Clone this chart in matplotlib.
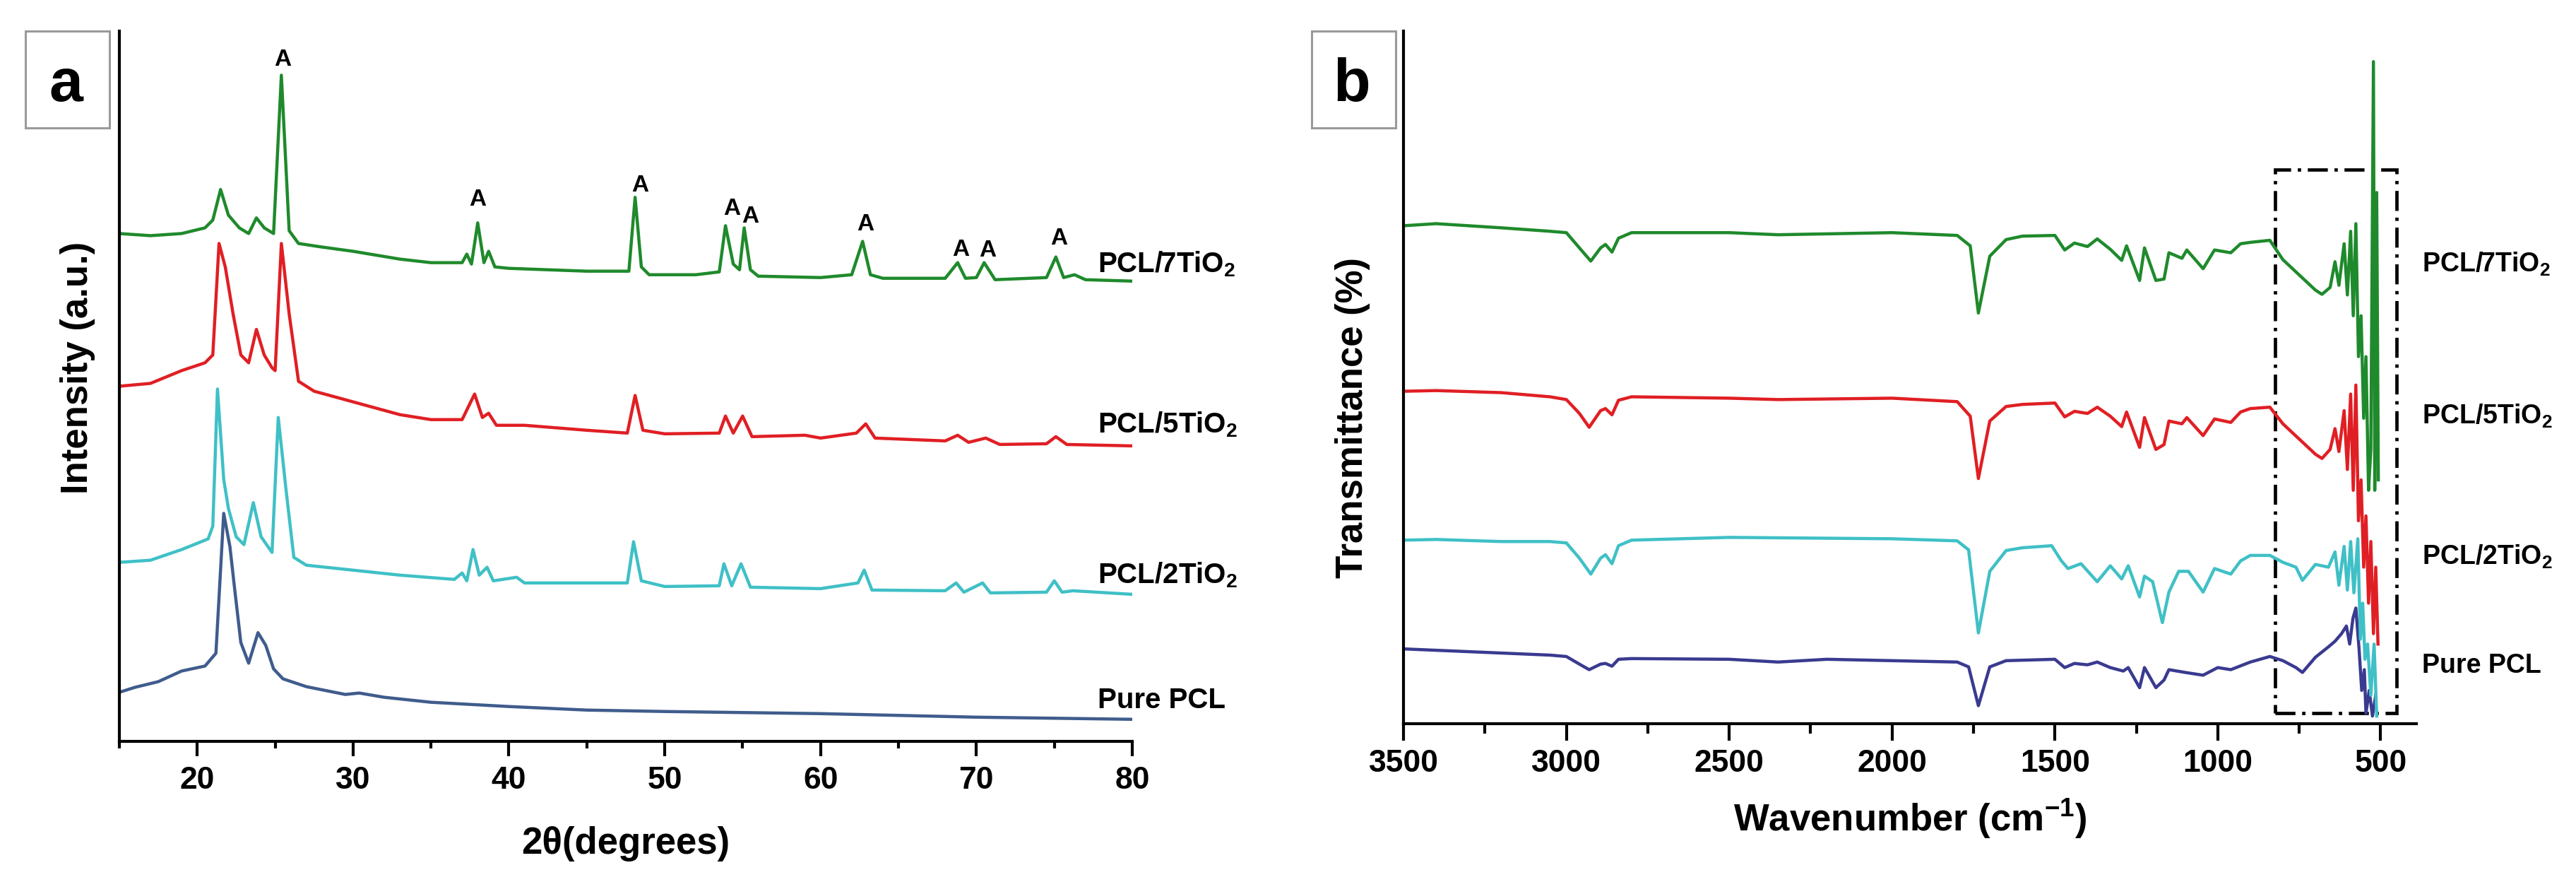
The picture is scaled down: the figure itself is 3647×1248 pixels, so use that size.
import matplotlib
matplotlib.use("Agg")
import matplotlib.pyplot as plt
from matplotlib.patches import Rectangle
from matplotlib.ticker import MultipleLocator

plt.rcParams['font.family'] = ['Liberation Sans', 'DejaVu Sans']
plt.rcParams['font.weight'] = 'bold'
plt.rcParams['mathtext.fontset'] = 'custom'
plt.rcParams['mathtext.bf'] = 'Liberation Sans:bold'
plt.rcParams['mathtext.rm'] = 'Liberation Sans:bold'
plt.rcParams['mathtext.default'] = 'bf'

# ---- (a) XRD patterns (stacked, arbitrary units) ----
xrd_7_x = [15, 17, 19, 20.5, 21.0, 21.5, 22.0, 22.7, 23.3, 23.8, 24.3, 24.9, 25.4, 25.9, 26.5, 28, 30, 33, 35, 37,
           37.3, 37.6, 38.0, 38.4, 38.7, 39.1, 40, 45, 47.7, 48.1, 48.5, 49, 52, 53.5, 53.9, 54.4, 54.8, 55.1, 55.5,
           56, 60, 62, 62.7, 63.2, 64, 68, 68.8, 69.3, 70, 70.5, 71.2, 74.5, 75.1, 75.6, 76.3, 77, 80]
xrd_7_y = [71.5, 71.2, 71.5, 72.3, 73.4, 77.7, 74.1, 72.3, 71.5, 73.7, 72.3, 71.5, 93.8, 71.9, 70.1, 69.6, 69.0, 67.9,
           67.4, 67.4, 68.6, 67.2, 73.0, 67.4, 69.0, 66.8, 66.6, 66.2, 66.2, 76.6, 66.8, 65.7, 65.7, 66.1, 72.6, 67.2,
           66.4, 72.3, 66.4, 65.5, 65.3, 65.7, 70.4, 65.7, 65.2, 65.2, 67.4, 65.2, 65.3, 67.4, 65.0, 65.3, 68.2, 65.3,
           65.7, 65.0, 64.8]

xrd_5_x = [15, 17, 19, 20.5, 21.0, 21.4, 21.8, 22.3, 22.8, 23.3, 23.8, 24.3, 24.8, 25.0, 25.4, 25.9, 26.5, 27.5, 30,
           33, 35, 37, 37.8, 38.3, 38.7, 39.2, 41, 45, 47.6, 48.1, 48.6, 50, 53.5, 53.9, 54.4, 55.0, 55.6, 59, 60,
           62.3, 62.9, 63.5, 68, 68.8, 69.5, 70.6, 71.5, 74.5, 75.1, 75.8, 80]
xrd_5_y = [50.0, 50.4, 52.2, 53.3, 54.4, 70.1, 66.8, 60.2, 54.4, 53.3, 58.0, 54.4, 52.6, 52.2, 70.1, 60.2, 50.7, 49.3,
           47.8, 46.0, 45.3, 45.3, 48.9, 45.6, 46.2, 44.5, 44.5, 43.8, 43.4, 48.7, 43.8, 43.3, 43.4, 45.8, 43.4, 45.8,
           42.9, 43.1, 42.7, 43.4, 44.7, 42.7, 42.3, 43.1, 42.1, 42.7, 41.8, 41.9, 42.9, 41.8, 41.6]

xrd_2_x = [15, 17, 19, 20.7, 21.0, 21.3, 21.7, 22.0, 22.5, 23.0, 23.6, 24.1, 24.8, 25.2, 25.7, 26.2, 27, 30, 33, 36.5,
           37.0, 37.3, 37.7, 38.1, 38.6, 39.0, 40.5, 41, 45, 47.6, 48.0, 48.5, 50, 53.5, 53.8, 54.3, 54.9, 55.5, 60,
           62.4, 62.8, 63.3, 68, 68.7, 69.2, 70.4, 70.9, 74.5, 75.0, 75.5, 76.2, 80]
xrd_2_y = [25.2, 25.5, 27.0, 28.5, 30.3, 49.6, 36.9, 32.8, 28.8, 27.7, 33.6, 28.8, 26.6, 45.6, 35.4, 25.9, 24.8, 24.1,
           23.4, 22.8, 23.7, 22.6, 27.0, 23.4, 24.5, 22.6, 23.1, 22.3, 22.3, 22.3, 28.1, 22.6, 21.8, 21.9, 25.0, 21.9,
           25.0, 21.7, 21.5, 22.3, 24.1, 21.3, 21.2, 22.3, 21.0, 22.3, 20.9, 21.0, 22.6, 21.0, 21.2, 20.7]

xrd_pure_x = [15, 16, 17.5, 19, 20.5, 21.2, 21.7, 22.1, 22.4, 22.8, 23.3, 23.9, 24.4, 24.9, 25.5, 27, 29.5, 30.4, 32,
              35, 40, 45, 50, 60, 70, 80]
xrd_pure_y = [6.9, 7.6, 8.4, 9.9, 10.6, 12.4, 32.1, 27.4, 21.5, 13.9, 11.0, 15.3, 13.5, 10.2, 8.8, 7.7, 6.6, 6.8, 6.2,
              5.5, 4.9, 4.4, 4.2, 3.9, 3.4, 3.1]

anatase_x = [25.5, 38.0, 48.4, 54.3, 55.5, 62.9, 69.0, 70.7, 75.3]
anatase_y = [96.0, 76.3, 78.3, 75.0, 73.9, 72.8, 69.2, 69.1, 70.8]

# ---- (b) FTIR spectra ----
ftir_7_x = [3500, 3400, 3200, 3050, 3000, 2960, 2925, 2895, 2880, 2860, 2840, 2800, 2500, 2350, 2000, 1800, 1760,
            1735, 1700, 1650, 1600, 1500, 1470, 1440, 1400, 1370, 1330, 1295, 1280, 1240, 1225, 1190, 1165, 1150,
            1110, 1095, 1045, 1010, 960, 930, 900, 840, 800, 750, 700, 680, 655, 640, 628, 612, 602, 592, 584, 576,
            568, 560, 552, 545, 537, 530, 522, 518, 512, 507]
ftir_7_y = [71.9, 72.2, 71.6, 71.1, 70.9, 68.7, 66.8, 68.7, 69.2, 68.1, 70.1, 70.9, 70.9, 70.6, 70.9, 70.5, 69.0,
            59.3, 67.5, 69.9, 70.4, 70.5, 68.4, 69.4, 68.9, 70.0, 68.5, 66.9, 69.0, 64.0, 68.7, 64.0, 64.2, 68.0,
            67.2, 68.4, 65.7, 68.4, 68.0, 69.3, 69.5, 69.8, 67.0, 64.8, 62.6, 62.0, 63.0, 66.7, 63.3, 69.3, 61.9,
            71.1, 58.9, 72.2, 53.0, 58.9, 44.1, 53.0, 33.7, 39.6, 95.6, 33.7, 76.7, 35.2]

ftir_5_x = [3500, 3400, 3200, 3050, 3000, 2960, 2930, 2895, 2880, 2860, 2840, 2800, 2500, 2350, 2000, 1800, 1760,
            1735, 1700, 1650, 1600, 1500, 1470, 1440, 1400, 1370, 1330, 1295, 1280, 1240, 1225, 1190, 1165, 1150,
            1110, 1095, 1045, 1010, 960, 930, 900, 840, 800, 750, 700, 680, 655, 640, 628, 612, 602, 592, 584, 576,
            568, 560, 552, 545, 537, 530, 522, 515, 508]
ftir_5_y = [48.0, 48.1, 47.8, 47.2, 46.8, 44.8, 42.8, 45.2, 45.5, 44.6, 46.7, 47.2, 47.0, 46.8, 47.0, 46.5, 44.4,
            35.4, 43.7, 45.8, 46.1, 46.3, 44.3, 45.1, 44.8, 45.7, 44.4, 42.9, 45.0, 39.9, 44.2, 39.6, 40.3, 43.7,
            43.3, 44.2, 41.6, 44.0, 43.5, 45.0, 45.5, 45.7, 43.3, 41.1, 38.9, 38.3, 39.6, 42.6, 39.3, 45.2, 36.7,
            47.6, 33.7, 48.9, 29.3, 35.2, 22.6, 30.0, 17.4, 26.3, 13.0, 22.6, 11.5]

ftir_2_x = [3500, 3400, 3200, 3050, 3000, 2960, 2925, 2895, 2880, 2860, 2840, 2800, 2500, 2000, 1800, 1765, 1735,
            1700, 1650, 1600, 1510, 1480, 1460, 1420, 1370, 1330, 1295, 1275, 1240, 1225, 1200, 1170, 1150, 1120,
            1090, 1045, 1010, 960, 930, 900, 840, 800, 760, 740, 700, 660, 640, 628, 612, 602, 592, 582, 570, 562,
            555, 548, 540, 530, 520, 512]
ftir_2_y = [26.5, 26.6, 26.3, 26.3, 26.1, 23.9, 21.6, 23.9, 24.4, 23.1, 25.7, 26.5, 26.9, 26.7, 26.4, 25.1, 13.1,
            22.0, 25.0, 25.4, 25.7, 23.5, 22.4, 23.1, 20.5, 22.8, 20.9, 22.8, 18.3, 21.3, 20.5, 14.6, 19.0, 22.0,
            22.0, 19.0, 22.4, 21.6, 23.5, 24.3, 24.3, 23.3, 22.6, 20.7, 23.0, 22.6, 24.8, 20.0, 25.6, 19.3, 26.3,
            18.9, 26.7, 12.2, 17.4, 9.3, 11.5, 4.1, 11.5, 1.1]

ftir_pure_x = [3500, 3400, 3200, 3050, 3000, 2960, 2930, 2895, 2880, 2860, 2840, 2800, 2500, 2350, 2200, 2000, 1800,
               1765, 1735, 1700, 1650, 1500, 1470, 1440, 1400, 1370, 1330, 1290, 1275, 1240, 1225, 1190, 1165, 1150,
               1100, 1045, 1000, 960, 900, 840, 800, 760, 740, 700, 660, 640, 620, 605, 595, 585, 576, 566, 558, 550,
               545, 535, 525, 515]
ftir_pure_y = [10.8, 10.6, 10.2, 9.9, 9.7, 8.6, 7.8, 8.6, 8.7, 8.3, 9.3, 9.4, 9.3, 8.9, 9.3, 9.1, 8.9, 8.2, 2.6,
               8.2, 9.1, 9.3, 8.1, 8.7, 8.5, 8.9, 8.1, 7.6, 8.1, 5.2, 8.1, 5.2, 6.3, 7.8, 7.4, 7.0, 8.1, 7.8, 8.9,
               9.7, 9.1, 8.1, 7.4, 9.6, 11.1, 11.9, 13.0, 14.1, 11.5, 15.2, 16.7, 10.7, 4.8, 7.8, 1.5, 4.8, 1.1, 4.1]

zoom_box_x = [824, 452]
zoom_box_y = [1.5, 80.0]

sample_names = ["PCL/7TiO$_2$", "PCL/5TiO$_2$", "PCL/2TiO$_2$", "Pure PCL"]
xrd_label_y = [67.2, 44.6, 23.4, 5.8]
ftir_label_y = [66.3, 44.4, 24.1, 8.4]

green, red, cyan = '#1f8a2c', '#e01f24', '#3fc0c6'
blue_a, blue_b = '#3f5c8c', '#3a3a90'

fig = plt.figure(figsize=(36.48, 12.48), dpi=100)
ax1 = fig.add_axes([0.0463, 0.1595, 0.3931, 0.8052])
ax2 = fig.add_axes([0.5447, 0.1795, 0.3931, 0.7852])

lw = 3.2
ax1.plot(xrd_pure_x, xrd_pure_y, color=blue_a, lw=lw)
ax1.plot(xrd_2_x, xrd_2_y, color=cyan, lw=lw)
ax1.plot(xrd_5_x, xrd_5_y, color=red, lw=lw)
ax1.plot(xrd_7_x, xrd_7_y, color=green, lw=lw)
for x, y in zip(anatase_x, anatase_y):
    ax1.text(x, y, "A", fontsize=24, fontweight='bold', ha='center', va='center')
for name, y in zip(sample_names, xrd_label_y):
    ax1.text(77.8, y, name, fontsize=29, fontweight='bold', ha='left', va='center', clip_on=False)
ax1.set_xlim(15, 80)
ax1.set_ylim(0, 100)
ax1.xaxis.set_major_locator(MultipleLocator(10))
ax1.xaxis.set_minor_locator(MultipleLocator(5))
ax1.set_xlabel("2θ(degrees)", fontsize=38, fontweight='bold')
ax1.xaxis.set_label_coords(0.5, -0.144)
ax1.xaxis.label.set_va('center')
ax1.set_ylabel("Intensity (a.u.)", fontsize=38, fontweight='bold')
ax1.yaxis.set_label_coords(-0.041, 0.526)
ax1.yaxis.label.set_va('center')
ax1.tick_params(axis='x', which='major', length=15, pad=10)
ax1.tick_params(axis='x', which='minor', length=7)

ax2.plot(ftir_7_x, ftir_7_y, color=green, lw=lw)
ax2.plot(ftir_5_x, ftir_5_y, color=red, lw=lw)
ax2.plot(ftir_pure_x, ftir_pure_y, color=blue_b, lw=lw)
ax2.plot(ftir_2_x, ftir_2_y, color=cyan, lw=lw)
ax2.add_patch(Rectangle((zoom_box_x[0], zoom_box_y[0]), zoom_box_x[1] - zoom_box_x[0],
                        zoom_box_y[1] - zoom_box_y[0], fill=False, ec='black', lw=3.4,
                        ls=(0, (6, 2, 1, 2))))
for name, y in zip(sample_names, ftir_label_y):
    ax2.text(372, y, name, fontsize=27, fontweight='bold', ha='left', va='center', clip_on=False)
ax2.set_xlim(3500, 390)
ax2.set_ylim(0, 100)
ax2.xaxis.set_major_locator(MultipleLocator(500))
ax2.xaxis.set_minor_locator(MultipleLocator(250))
ax2.set_xlabel("Wavenumber (cm$^{-1}$)", fontsize=38, fontweight='bold')
ax2.xaxis.set_label_coords(0.5, -0.137)
ax2.xaxis.label.set_va('center')
ax2.set_ylabel("Transmittance (%)", fontsize=38, fontweight='bold')
ax2.yaxis.set_label_coords(-0.050, 0.442)
ax2.yaxis.label.set_va('center')
ax2.tick_params(axis='x', which='major', length=17, pad=9)
ax2.tick_params(axis='x', which='minor', length=10)

for ax in (ax1, ax2):
    for side in ('top', 'right'):
        ax.spines[side].set_visible(False)
    ax.spines['left'].set_linewidth(3)
    ax.spines['bottom'].set_linewidth(3)
    ax.set_yticks([])
    ax.tick_params(axis='x', which='both', direction='out', width=3, labelsize=32)
    for t in ax.get_xticklabels():
        t.set_fontweight('bold')

# panel letters in grey boxes
for x0, letter, xc in ((36, 'a', 93), (1857, 'b', 1914)):
    fig.patches.append(Rectangle((x0 / 3648, 1 - 181 / 1248), 119 / 3648, 137 / 1248,
                                 transform=fig.transFigure, fill=False, ec='#9a9a9a', lw=2.2))
    fig.text(xc / 3648, 1 - 143 / 1248, letter, fontsize=62, fontweight='bold', ha='center', va='baseline')

fig.savefig("out.png", dpi=100)
